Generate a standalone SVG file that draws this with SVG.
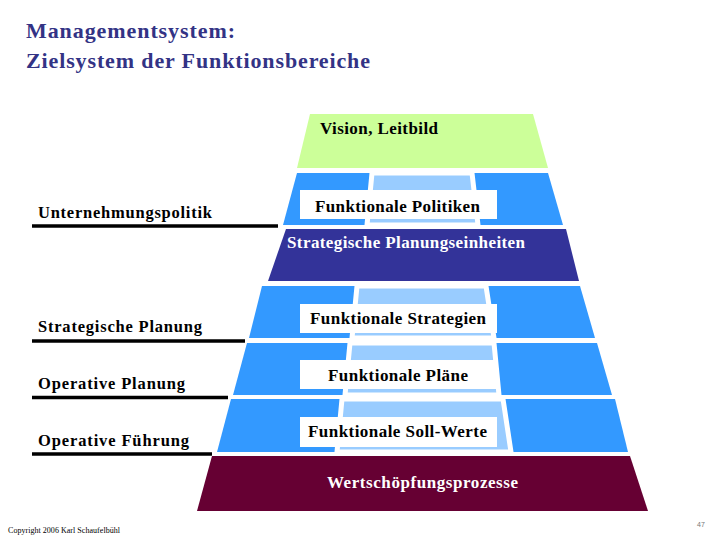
<svg xmlns="http://www.w3.org/2000/svg" width="720" height="540" viewBox="0 0 720 540">
<style>
.t{font-family:"Liberation Serif","Times New Roman","DejaVu Serif",serif;font-weight:700;}
.lbl{font-size:17px;fill:#000;}
.side{font-size:16.5px;fill:#000;}
.blue{fill:#3399FF;}
.light{fill:#99CCFF;stroke:#FFFFFF;stroke-width:5;}
.box{fill:#FFFFFF;}
.ul{stroke:#000;stroke-width:3.5;}
</style>
<rect width="720" height="540" fill="#FFFFFF"/>
<g id="title" font-family="Liberation Serif, serif">
<text class="t" x="26" y="38" font-size="22" fill="#333385" textLength="209" lengthAdjust="spacing">Managementsystem:</text>
<text class="t" x="26" y="68" font-size="22" fill="#333385" textLength="344" lengthAdjust="spacing">Zielsystem der Funktionsbereiche</text>
</g>
<g id="vision">
<polygon points="310,114 533,114 548,168 297,168" fill="#CCFF99"/>
<text class="t lbl" x="320" y="134" textLength="118" lengthAdjust="spacing">Vision, Leitbild</text>
</g>
<g id="politiken">
<polygon class="blue" points="297,173 548,173 563,225 283,225"/>
<polygon class="light" points="372,173 472,173 478,225 367,225"/>
<rect class="box" x="300" y="190" width="197" height="29"/>
<text class="t lbl" x="315" y="212" textLength="165" lengthAdjust="spacing">Funktionale Politiken</text>
</g>
<g id="spe">
<polygon points="286,229 566,229 579,281 268,281" fill="#333399"/>
<text class="t lbl" x="287" y="248" style="fill:#FFFFFF" textLength="238" lengthAdjust="spacing">Strategische Planungseinheiten</text>
</g>
<g id="strategien">
<polygon class="blue" points="262,286 580,286 595,338 249,338"/>
<polygon class="light" points="357,286 486,286 494,338 352,338"/>
<rect class="box" x="300" y="304" width="197" height="29"/>
<text class="t lbl" x="310" y="324" textLength="176" lengthAdjust="spacing">Funktionale Strategien</text>
</g>
<g id="plaene">
<polygon class="blue" points="247,343 597,343 612,395 233,395"/>
<polygon class="light" points="350,343 494,343 499,395 345,395"/>
<rect class="box" x="300" y="360" width="197" height="29"/>
<text class="t lbl" x="328" y="381" textLength="140" lengthAdjust="spacing">Funktionale Pläne</text>
</g>
<g id="sollwerte">
<polygon class="blue" points="231,399 615,399 628,452 217,452"/>
<polygon class="light" points="342,399 503,399 511,452 337,452"/>
<rect class="box" x="300" y="417" width="197" height="30"/>
<text class="t lbl" x="308" y="437" textLength="179" lengthAdjust="spacing">Funktionale Soll-Werte</text>
</g>
<g id="wertschoepfung">
<polygon points="212,456 630,456 648,511 197,511" fill="#660033"/>
<text class="t lbl" x="327" y="488" style="fill:#FFFFFF" textLength="191" lengthAdjust="spacing">Wertschöpfungsprozesse</text>
</g>
<g id="unternehmungspolitik">
<text class="t side" x="38" y="218" textLength="174" lengthAdjust="spacing">Unternehmungspolitik</text>
</g>
<g id="strategische-planung">
<text class="t side" x="38" y="332" textLength="164" lengthAdjust="spacing">Strategische Planung</text>
</g>
<g id="operative-planung">
<text class="t side" x="38" y="389" textLength="147" lengthAdjust="spacing">Operative Planung</text>
</g>
<g id="operative-fuehrung">
<text class="t side" x="38" y="446" textLength="151" lengthAdjust="spacing">Operative Führung</text>
</g>
<g id="connectors">
<line class="ul" x1="32" y1="226" x2="278" y2="226"/>
<line class="ul" x1="32" y1="341" x2="245" y2="341"/>
<line class="ul" x1="32" y1="397.5" x2="228" y2="397.5"/>
<line class="ul" x1="32" y1="454" x2="212" y2="454"/>
</g>
<g id="footer">
<text x="8" y="533" font-family="'Liberation Serif',serif" font-size="8" fill="#000" textLength="112" lengthAdjust="spacing">Copyright 2006 Karl Schaufelbühl</text>
<text x="697" y="527" font-family="'Liberation Sans',sans-serif" font-size="7" fill="#777">47</text>
</g>
</svg>
